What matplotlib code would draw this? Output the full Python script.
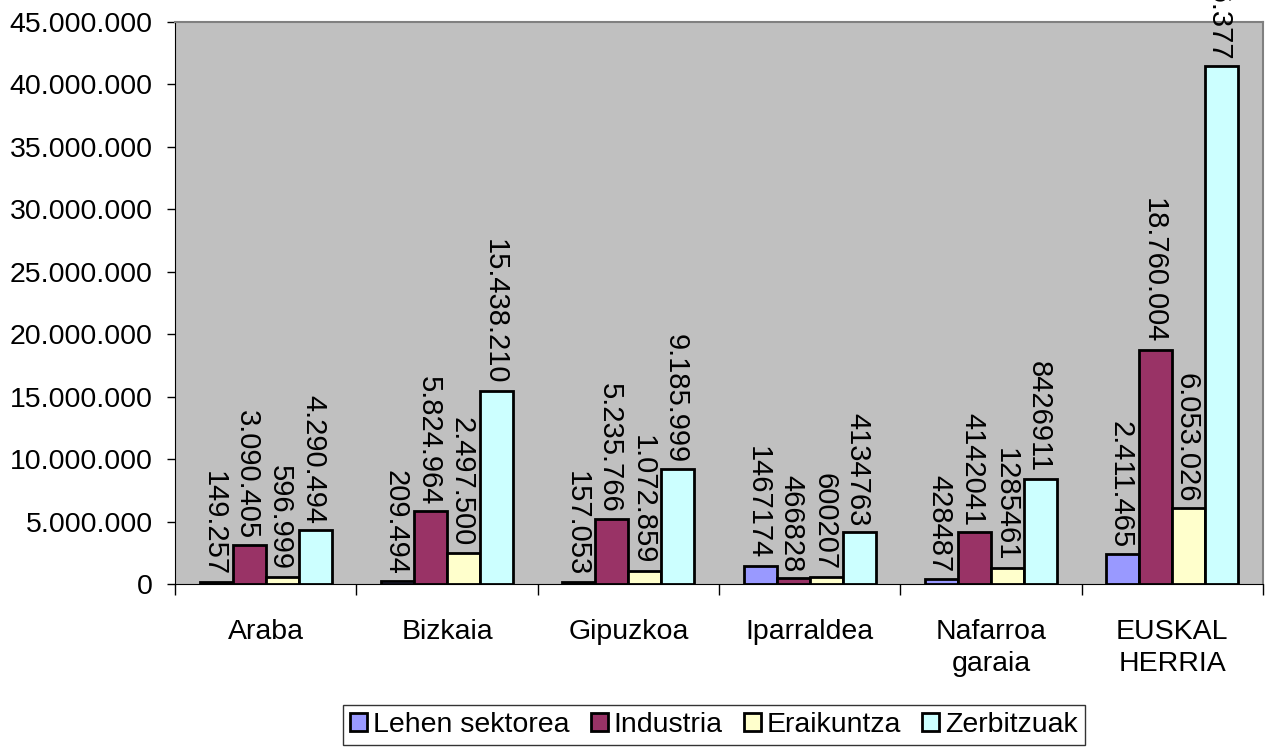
import numpy as np
import matplotlib.pyplot as plt
from matplotlib.ticker import FuncFormatter

plt.rcParams['font.family'] = ['Liberation Sans', 'DejaVu Sans']

# Data
categories = ["Araba", "Bizkaia", "Gipuzkoa", "Iparraldea", "Nafarroa\ngaraia", "EUSKAL\nHERRIA"]
series_names = ["Lehen sektorea", "Industria", "Eraikuntza", "Zerbitzuak"]
lehen = [149257, 209494, 157053, 1467174, 428487, 2411465]
industria = [3090405, 5824964, 5235766, 466828, 4142041, 18760004]
eraikuntza = [596999, 2497500, 1072859, 600207, 1285461, 6053026]
zerbitzuak = [4290494, 15438210, 9185999, 4134763, 8426911, 41476377]
# labels as printed in the chart (Iparraldea / Nafarroa without separators)
lehen_lbl = ["149.257", "209.494", "157.053", "1467174", "428487", "2.411.465"]
industria_lbl = ["3.090.405", "5.824.964", "5.235.766", "466828", "4142041", "18.760.004"]
eraikuntza_lbl = ["596.999", "2.497.500", "1.072.859", "600207", "1285461", "6.053.026"]
zerbitzuak_lbl = ["4.290.494", "15.438.210", "9.185.999", "4134763", "8426911", "41.476.377"]

values = [lehen, industria, eraikuntza, zerbitzuak]
labels = [lehen_lbl, industria_lbl, eraikuntza_lbl, zerbitzuak_lbl]
colors = ["#9999FF", "#993366", "#FFFFCC", "#CCFFFF"]

fig = plt.figure(figsize=(12.71, 7.49), dpi=100)
ax = fig.add_axes([175 / 1271, 165 / 749, 1088 / 1271, 562 / 749])
ax.set_facecolor("#C0C0C0")

x = np.arange(len(categories))
w = 0.182
for i, (vals, lbls) in enumerate(zip(values, labels)):
    pos = x + (i - 1.5) * w
    ax.bar(pos, vals, width=w, color=colors[i], edgecolor="black", linewidth=2,
           label=series_names[i], zorder=3)
    for px, v, t in zip(pos, vals, lbls):
        ax.annotate(t, (px, v), xytext=(-1.5, 4.5), textcoords="offset points",
                    rotation=270, ha="center", va="bottom", fontsize=21,
                    annotation_clip=False, zorder=4)

ax.set_xlim(-0.5, len(categories) - 0.5)
ax.set_ylim(0, 45000000)
ax.set_yticks(np.arange(0, 45000001, 5000000))
ax.yaxis.set_major_formatter(FuncFormatter(lambda v, p: f"{int(v):,}".replace(",", ".")))

ax.set_xticks(x)
ax.set_xticklabels(categories, fontsize=20.5, linespacing=1.3)
ax.set_xticks(np.arange(-0.5, len(categories)), minor=True)
ax.tick_params(axis="x", which="major", length=0, pad=25)
ax.tick_params(axis="x", which="minor", length=8, width=1, direction="out", color="black")
ax.tick_params(axis="y", labelsize=20.5, length=6, width=1, direction="out", pad=10)

for s in ["top", "right"]:
    ax.spines[s].set_color("#808080")
    ax.spines[s].set_linewidth(1.5)
ax.spines["left"].set_color("black")
ax.spines["bottom"].set_color("black")

leg = fig.legend(loc="lower center", bbox_to_anchor=(714 / 1271, 4 / 749), ncol=4,
                 fontsize=20.5, frameon=True, fancybox=False, edgecolor="black",
                 handlelength=0.6, handleheight=0.6, handletextpad=0.2,
                 columnspacing=0.75, borderpad=0.25, borderaxespad=0)
leg.get_frame().set_linewidth(1)

fig.savefig("out.png", dpi=100)
